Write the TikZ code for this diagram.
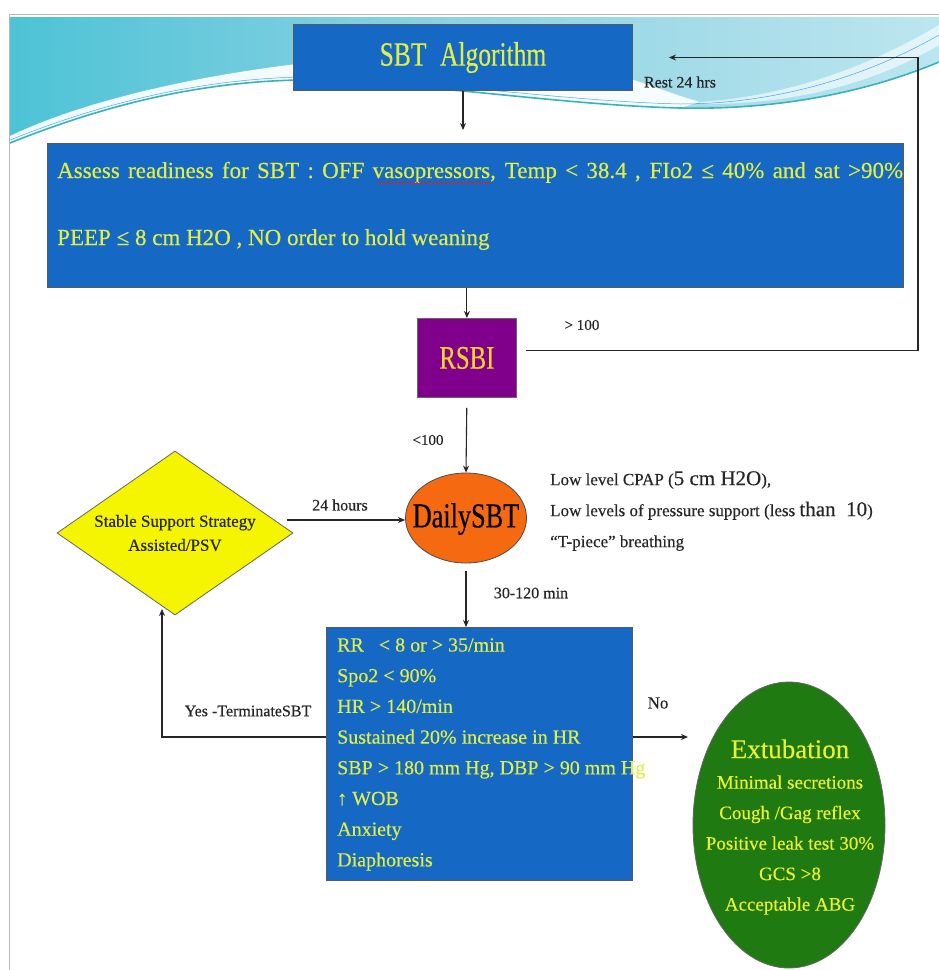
\documentclass[tikz,border=0pt]{standalone}
\usepackage{fontspec}
\setmainfont{Liberation Serif}[FakeBold=0.35]
\newfontfamily\condfont{Liberation Serif}[FakeStretch=0.75,FakeBold=0.35]
\usetikzlibrary{arrows.meta,shapes.geometric,decorations.pathmorphing}
\definecolor{boxblue}{HTML}{1569C4}
\definecolor{txtyel}{HTML}{E1EE46}
\definecolor{extyel}{HTML}{ECF032}
\definecolor{rsbiyel}{HTML}{F2D22A}
\definecolor{rsbipurple}{HTML}{80008C}
\definecolor{sbtorange}{HTML}{F56A10}
\definecolor{extgreen}{HTML}{1F7A12}
\definecolor{diayellow}{HTML}{F5F500}
\definecolor{wavecyan}{HTML}{4EC3D6}
\definecolor{wavemid}{HTML}{8FD3E3}
\definecolor{wavelight}{HTML}{BCE6EF}
\definecolor{waveteal}{HTML}{36B3BE}
\definecolor{framegray}{HTML}{B8B8B8}
\definecolor{spellred}{HTML}{E02020}
\begin{document}
\begin{tikzpicture}[x=1pt,y=-1pt]
\tikzset{
  conn/.style={draw=black!85, line width=1.1pt, -{Stealth[length=7pt,width=6pt]}},
  bluebox/.style={draw=black!65, line width=1pt, fill=boxblue, inner sep=0pt, anchor=north west},
  lbl/.style={text=black!85, inner sep=0pt, font=\fontsize{16}{19}\selectfont},
}
\useasboundingbox (0,0) rectangle (939,970);
\fill[white] (0,0) rectangle (939,970);
% background wave
\shade[left color=wavecyan, right color=wavelight, middle color=wavemid]
  (10,17) -- (939,17) -- (939,62) .. controls (860,95) and (770,110) .. (680,108)
  .. controls (560,105) and (440,84) .. (300,80) .. controls (180,82) and (80,115) .. (10,143) -- cycle;
\fill[white, opacity=0.92]
  (10,136) .. controls (110,88) and (290,55) .. (470,52) .. controls (580,52) and (640,85) .. (700,102)
  -- (680,108) .. controls (560,105) and (440,84) .. (300,80) .. controls (180,82) and (80,115) .. (10,143) -- cycle;
\fill[white, opacity=0.6]
  (700,102) .. controls (800,95) and (880,60) .. (939,25) -- (939,45) .. controls (880,80) and (800,105) .. (700,104) -- cycle;
\draw[waveteal, line width=1.6pt]
  (10,143) .. controls (80,115) and (180,82) .. (300,80) .. controls (440,84) and (560,105) .. (680,108)
  .. controls (770,110) and (860,95) .. (939,62);
\draw[blue!50!cyan, line width=0.5pt, opacity=0.7]
  (10,140) .. controls (80,112) and (180,80) .. (300,77) .. controls (440,81) and (560,101) .. (680,104)
  .. controls (770,104) and (860,80) .. (939,35);
\draw[framegray, line width=1pt] (9,970) -- (9,14) -- (939,14);

% nodes
\node[bluebox, minimum width=339pt, minimum height=66pt, text=txtyel,
      font=\condfont\fontsize{34}{40}\selectfont] (sbt) at (293,24) {SBT\hspace{0.4em}Algorithm};
\node[bluebox, minimum width=856pt, minimum height=144pt] (assess) at (47,143) {};
\node[anchor=base west, text=txtyel, font=\fontsize{23}{28}\selectfont, inner sep=0pt] (as1) at (57,178)
  {\makebox[846pt][s]{Assess  readiness  for  SBT :  OFF  vasopressors,  Temp  < 38.4 , FIo2 ≤  40\% and sat >90\%}};
\draw[spellred, line width=0.6pt, decorate, decoration={snake, amplitude=0.8pt, segment length=3pt}]
  (377,183) -- (490,183);
\node[anchor=base west, text=txtyel, font=\fontsize{23}{28}\selectfont, inner sep=0pt] (as2) at (57,245)
  {PEEP ≤ 8 cm H2O ,  NO  order to hold weaning};
\node[draw=black!60, line width=0.8pt, fill=rsbipurple, minimum width=99pt, minimum height=79pt,
      anchor=north west, text=rsbiyel, font=\condfont\fontsize{33}{36}\selectfont, inner sep=0pt] (rsbi) at (417,318) {RSBI};
\node[ellipse, draw=black!70, line width=0.8pt, fill=sbtorange, minimum width=121pt, minimum height=90pt, inner sep=0pt] (daily) at (466,518) {};
\node[font=\condfont\fontsize{35}{40}\selectfont, text=black, inner sep=0pt] (dailytext) at (466,519) {DailySBT};
\node[diamond, draw=black!60, line width=0.8pt, fill=diayellow, minimum width=236pt, minimum height=164pt, inner sep=0pt] (dia) at (175,533) {};
\node[font=\fontsize{17}{24}\selectfont, align=center, text=black!85, inner sep=0pt] (diatext) at (175,533) {Stable Support Strategy\\Assisted/PSV};
\node[anchor=west, align=left, font=\fontsize{17}{31}\selectfont, text=black!85, inner sep=0pt] (cpap) at (550,511)
  {Low level CPAP ({\fontsize{21}{31}\selectfont 5 cm H2O}),\\
   Low levels of pressure support (less {\fontsize{21}{31}\selectfont than\ \ 10})\\
   “T-piece” breathing};
\node[bluebox, minimum width=306pt, minimum height=253pt] (crit) at (326,627) {};
\node[anchor=north west, align=left, text=txtyel, font=\fontsize{20}{30.7}\selectfont, inner sep=0pt] (crittext) at (337,638)
  {RR\ \ \ < 8 or > 35/min\\Spo2 < 90\%\\HR > 140/min\\Sustained 20\% increase in HR\\SBP > 180 mm Hg, DBP > 90 mm Hg\\↑ WOB\\Anxiety\\Diaphoresis};
\node[ellipse, draw=black!60, line width=0.8pt, fill=extgreen, minimum width=192pt, minimum height=286pt, inner sep=0pt] (ext) at (789,825) {};
\node[align=center, text=extyel, font=\fontsize{19}{30.5}\selectfont, inner sep=0pt] (exttext) at (790,827)
  {{\fontsize{27}{32}\selectfont Extubation}\\Minimal secretions\\Cough /Gag reflex\\Positive leak test 30\%\\GCS >8\\Acceptable ABG};

% labels
\node[lbl] (rest) at (680,82) {Rest 24 hrs};
\node[lbl, font=\fontsize{15}{18}\selectfont] (gt) at (582,325) {> 100};
\node[lbl, font=\fontsize{15}{18}\selectfont] (lt) at (428,440) {<100};
\node[lbl] (h24) at (340,505) {24 hours};
\node[lbl] (mins) at (531,593) {30-120 min};
\node[lbl] (yes) at (248,711) {Yes -TerminateSBT};
\node[lbl, font=\fontsize{17}{20}\selectfont] (no) at (658,703) {No};

% connectors
\draw[conn, shorten >=13pt] (sbt.south) -- (sbt.south |- assess.north);
\draw[conn] (rsbi.north |- assess.south) -- (rsbi.north);
\coordinate (rsbiout) at ([yshift=7pt]rsbi.east);
\coordinate (loopx) at (918,0);
\draw[conn, shorten <=9pt, shorten >=36pt] (rsbiout) -- (loopx |- rsbiout) -- (loopx |- sbt.east) -- (sbt.east);
\draw[conn, shorten <=10pt] (rsbi.south) -- (daily.north);
\coordinate (diaout) at (287,520);
\draw[conn] (diaout) -- (diaout -| daily.west);
\draw[conn, shorten <=8pt] (daily.south) -- (daily.south |- crit.north);
\coordinate (yesc) at (162,737);
\coordinate (yestip) at (162,609);
\draw[conn] (crit.west |- yesc) -- (yesc) -- (yestip);
\coordinate (noend) at (688,737);
\draw[conn] (crit.east |- noend) -- (noend);
\end{tikzpicture}
\end{document}
